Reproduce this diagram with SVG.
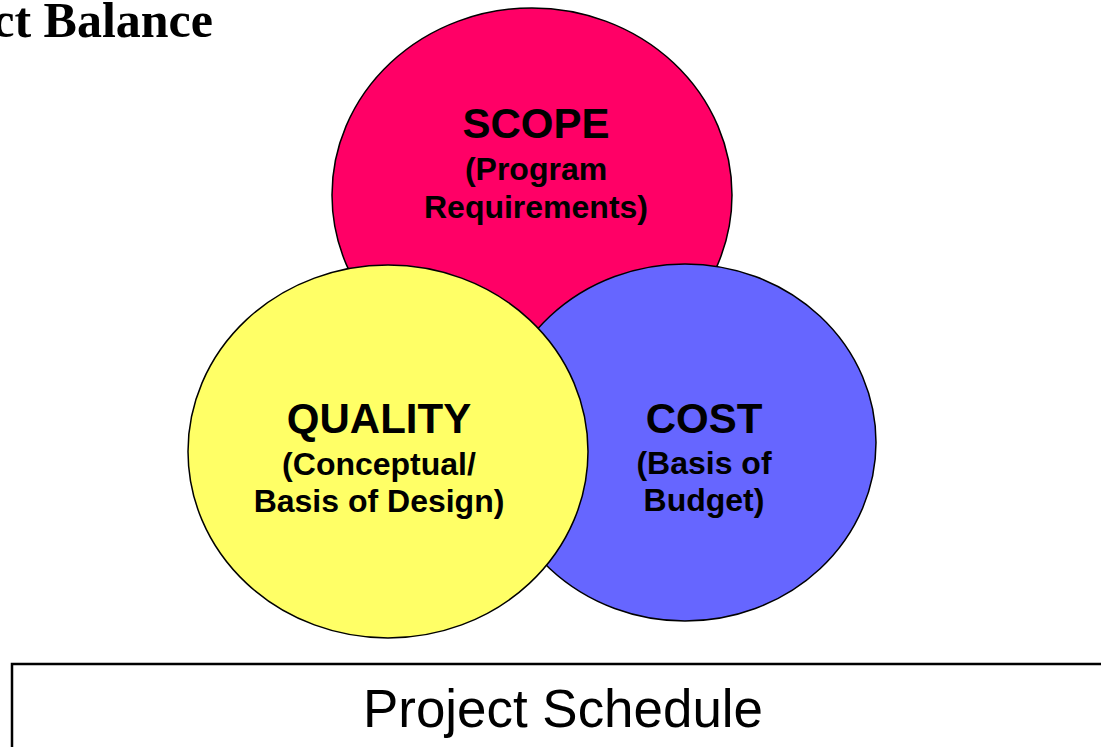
<svg xmlns="http://www.w3.org/2000/svg" width="1101" height="747" viewBox="0 0 1101 747">
<style>
.c{stroke:#000;stroke-width:1.5}
.t{font-family:"Liberation Sans",Arial,sans-serif;font-weight:bold;text-anchor:middle;fill:#000}
.h{font-size:42px}
.s{font-size:32px}
</style>
<rect width="1101" height="747" fill="#fff"/>
<g id="title"><text x="213" y="37" font-family="Liberation Serif, Times New Roman, serif" font-weight="bold" font-size="50" text-anchor="end">ct Balance</text></g>
<g id="scope">
<ellipse class="c" cx="532" cy="195" rx="200" ry="187" fill="#FF0066"/>
<text class="t h" x="536" y="138">SCOPE</text>
<text class="t s" x="536" y="180">(Program</text>
<text class="t s" x="536" y="218">Requirements)</text>
</g>
<g id="cost">
<ellipse class="c" cx="685" cy="442.5" rx="191" ry="178.5" fill="#6666FF"/>
<text class="t h" x="704" y="433">COST</text>
<text class="t s" x="704" y="474">(Basis of</text>
<text class="t s" x="704" y="511">Budget)</text>
</g>
<g id="quality">
<ellipse class="c" cx="388" cy="451.5" rx="200" ry="186.5" fill="#FFFF66"/>
<text class="t h" x="379" y="433">QUALITY</text>
<text class="t s" x="379" y="475">(Conceptual/</text>
<text class="t s" x="379" y="512">Basis of Design)</text>
</g>
<g id="schedule">
<rect x="12" y="664" width="1100" height="100" fill="none" stroke="#000" stroke-width="2.5"/>
<text x="563" y="727" font-family="Liberation Sans, Arial, sans-serif" font-size="54" text-anchor="middle" textLength="400" lengthAdjust="spacingAndGlyphs">Project Schedule</text>
</g>
<g id="connectors"/>
</svg>
